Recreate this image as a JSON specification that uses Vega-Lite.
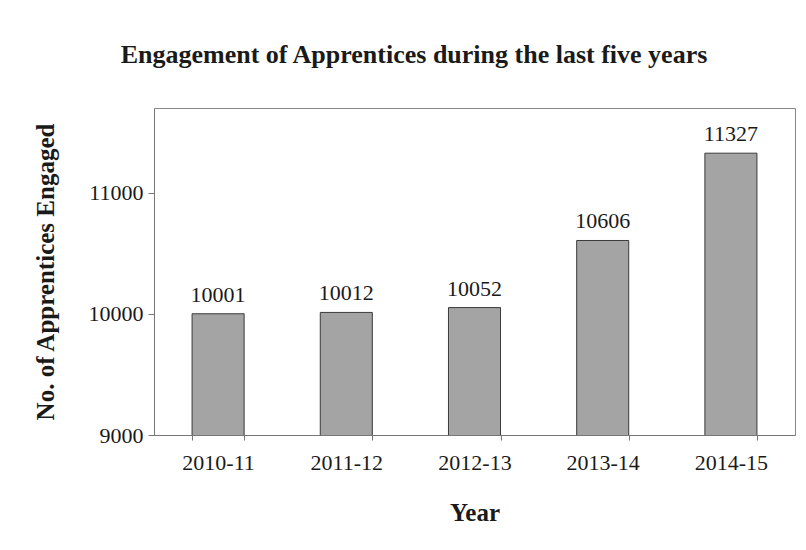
{
  "$schema": "https://vega.github.io/schema/vega-lite/v6.json",
  "width": 641,
  "height": 327,
  "padding": {"left": 33, "top": 42, "right": 11, "bottom": 10},
  "background": "white",
  "title": {
    "text": "Engagement of Apprentices during the last five years",
    "font": "Liberation Serif",
    "fontSize": 26,
    "fontWeight": "bold",
    "color": "#1a1a1a",
    "anchor": "middle",
    "frame": "bounds",
    "offset": 40
  },
  "data": {
    "values": [
      {"year": "2010-11", "count": 10001},
      {"year": "2011-12", "count": 10012},
      {"year": "2012-13", "count": 10052},
      {"year": "2013-14", "count": 10606},
      {"year": "2014-15", "count": 11327}
    ]
  },
  "encoding": {
    "x": {
      "field": "year",
      "type": "nominal",
      "sort": null,
      "scale": {"paddingInner": 0.594, "paddingOuter": 0.297},
      "axis": {
        "title": "Year",
        "labelAngle": 0,
        "tickBand": "extent",
        "tickSize": 5,
        "labelPadding": 12,
        "titlePadding": 27
      }
    },
    "y": {
      "field": "count",
      "type": "quantitative",
      "scale": {"domain": [9000, 11700], "nice": false, "zero": false},
      "axis": {
        "title": "No. of Apprentices Engaged",
        "values": [9000, 10000, 11000],
        "format": "d",
        "grid": false,
        "tickSize": 6,
        "labelPadding": 5,
        "titlePadding": 30
      }
    }
  },
  "layer": [
    {
      "mark": {"type": "bar", "clip": true, "fill": "#a4a4a4", "stroke": "#3a3a3a", "strokeWidth": 1}
    },
    {
      "mark": {"type": "text", "baseline": "bottom", "dy": -7, "font": "Liberation Serif", "fontSize": 22, "color": "#1a1a1a"},
      "encoding": {"text": {"field": "count", "type": "quantitative", "format": "d"}}
    }
  ],
  "config": {
    "view": {"stroke": "#888888", "strokeWidth": 1},
    "axis": {
      "labelFont": "Liberation Serif",
      "labelFontSize": 22,
      "labelColor": "#1a1a1a",
      "titleFont": "Liberation Serif",
      "titleFontSize": 25,
      "titleFontWeight": "bold",
      "titleColor": "#1a1a1a",
      "domainColor": "#777777",
      "tickColor": "#777777"
    }
  }
}
